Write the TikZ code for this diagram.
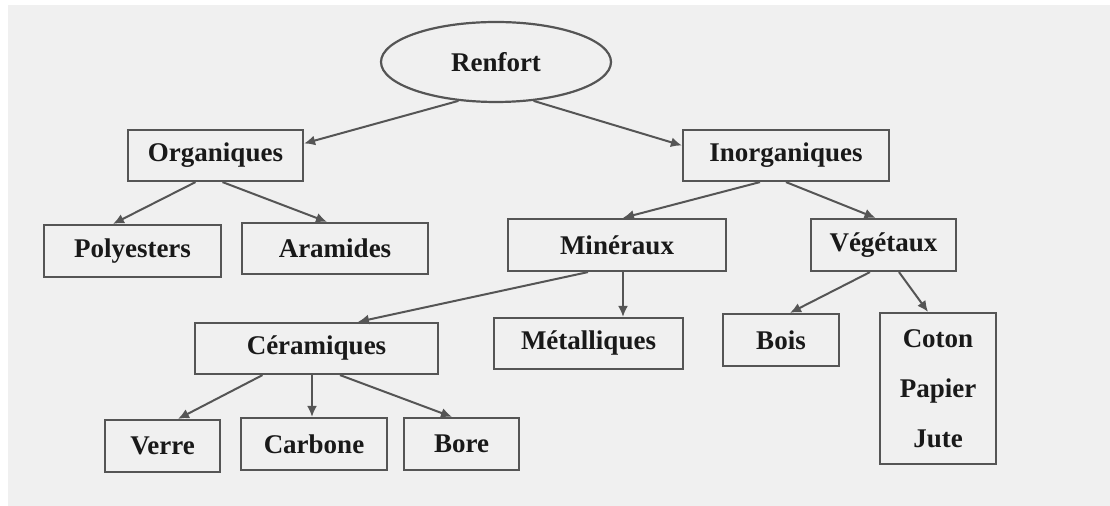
\documentclass[tikz,border=0pt]{standalone}
\usepackage{fontspec}
\setmainfont{Liberation Serif}
\usetikzlibrary{shapes.geometric,arrows.meta}

\definecolor{linegray}{RGB}{85,85,85}
\definecolor{backgray}{RGB}{240,240,240}
\definecolor{inkgray}{RGB}{25,25,25}

\tikzset{
  box/.style={draw=linegray, line width=1.1pt, rectangle, inner sep=2pt,
    minimum height=25.5pt, text=inkgray,
    font=\fontsize{13.5}{25}\selectfont\bfseries},
  link/.style={draw=linegray, line width=1pt,
    -{Latex[length=5.5pt,width=5pt]}},
}

\begin{document}
\begin{tikzpicture}[x=0.5pt,y=-0.5pt] %% pixel grid, y down
  \useasboundingbox (0,0) rectangle (1110,506);
  \fill[white] (0,0) rectangle (1110,506);
  \fill[backgray] (8,5) rectangle (1110,506);

  % root
  \node[box, ellipse, minimum width=115pt, minimum height=40pt] (ren) at (496,62) {Renfort};

  % first level
  \node[box, minimum width=87.5pt] (org) at (215.5,155.5) {Organiques};
  \node[box, minimum width=103pt] (inorg) at (786,155.5) {Inorganiques};

  % second level
  \node[box, minimum width=88.5pt, minimum height=26pt] (poly) at (132.5,251) {Polyesters};
  \node[box, minimum width=93pt] (ara) at (335,248.5) {Aramides};
  \node[box, minimum width=109pt, minimum height=26pt] (min) at (617,245) {Minéraux};
  \node[box, minimum width=72.5pt, minimum height=26pt] (veg) at (883.5,245) {Végétaux};

  % third level
  \node[box, minimum width=121.5pt] (cer) at (316.5,348.5) {Céramiques};
  \node[box, minimum width=94.5pt] (met) at (588.5,343.5) {Métalliques};
  \node[box, minimum width=58pt, minimum height=26pt] (bois) at (781,340) {Bois};
  \node[box, minimum width=58pt, minimum height=75.5pt, align=center] (coton) at (938,388.5)
    {Coton\\Papier\\Jute};

  % fourth level
  \node[box, minimum width=57.5pt, minimum height=26pt] (verre) at (162.5,446) {Verre};
  \node[box, minimum width=73pt, minimum height=26pt] (carb) at (314,444) {Carbone};
  \node[box, minimum width=57.5pt, minimum height=26pt] (bore) at (461.5,444) {Bore};

  % connectors
  \draw[link] (ren.226) -- ([yshift=6pt]org.east);
  \draw[link] (ren.314) -- ([yshift=5pt]inorg.west);

  \draw[link] ([xshift=-10pt]org.south) -- ([xshift=-9.75pt]poly.north);
  \draw[link] ([xshift=3.5pt]org.south) -- ([xshift=-4pt]ara.north);

  \draw[link] ([xshift=-13pt]inorg.south) -- ([xshift=3pt]min.north);
  \draw[link] ([xshift=0pt]inorg.south) -- ([xshift=-4pt]veg.north);

  \draw[link] ([xshift=-14.5pt]min.south) -- ([xshift=20.75pt]cer.north);
  \draw[link] ([xshift=3pt]min.south) -- ([xshift=17.25pt]met.north);

  \draw[link] ([xshift=-6.75pt]veg.south) -- ([xshift=4.5pt]bois.north);
  \draw[link] ([xshift=7.75pt]veg.south) -- ([xshift=-5pt]coton.north);

  \draw[link] ([xshift=-27pt]cer.south) -- ([xshift=7.75pt]verre.north);
  \draw[link] ([xshift=-2.25pt]cer.south) -- ([xshift=-1pt]carb.north);
  \draw[link] ([xshift=11.75pt]cer.south) -- ([xshift=-4.75pt]bore.north);
\end{tikzpicture}
\end{document}
